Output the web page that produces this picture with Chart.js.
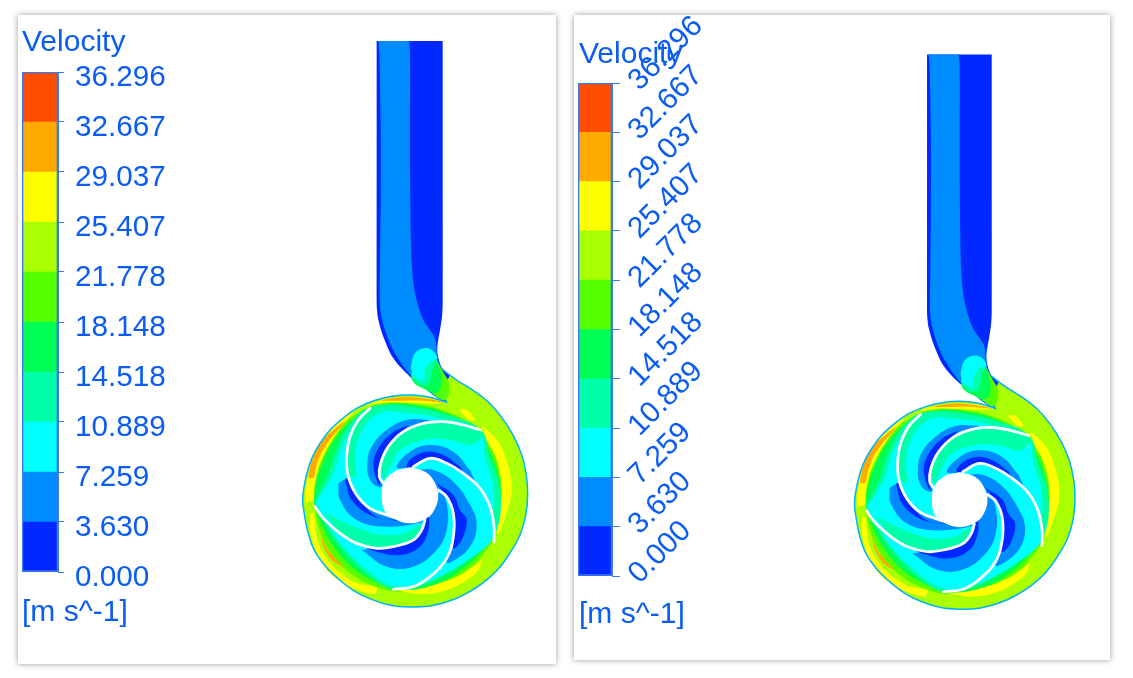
<!DOCTYPE html>
<html>
<head>
<meta charset="utf-8">
<script src="https://cdn.jsdelivr.net/npm/chart.js@4"></script>
<style>
  html, body { margin: 0; background: #fff; }
  .painel { position: absolute; background: #fff; box-shadow: 0 0 6px rgba(0,0,0,.4); }
  canvas { position: absolute; left: 0; top: 0; }
  .contorno { filter: blur(.4px); }
  .rotulo { position: absolute; font: 30px "Liberation Sans", Arial, sans-serif; color: #0a5cf5; white-space: nowrap; line-height: 34px; }
</style>
</head>
<body>
<div class="painel" id="p1" style="left:18px;top:15px;width:538px;height:649px">
  <canvas class="contorno" id="contorno1" width="538" height="649"></canvas>
  <canvas id="barra1" width="538" height="649"></canvas>
  <div class="rotulo" style="left:4px;top:9px">Velocity</div>
  <div class="rotulo" style="left:4px;top:579px">[m s^-1]</div>
</div>
<div class="painel" id="p2" style="left:574px;top:15px;width:536px;height:645px">
  <canvas class="contorno" id="contorno2" width="536" height="645"></canvas>
  <canvas id="barra2" width="536" height="645"></canvas>
  <div class="rotulo" style="left:5px;top:21px">Velocity</div>
  <div class="rotulo" style="left:5px;top:581px">[m s^-1]</div>
</div>
<script>
// Níveis e cores da escala de velocidade
const niveis = [0, 3.630, 7.259, 10.889, 14.518, 18.148, 21.778, 25.407, 29.037, 32.667, 36.296];
const cores = ['#0028ff', '#008cff', '#00ffff', '#00ffaa', '#00ff55', '#55ff00', '#aaff00', '#ffff00', '#ffaa00', '#ff4d00'];

// Contornos (unidades: pixels do recorte 3x do painel esquerdo)
const paredeVoluta = [[470,97],[412,80],[360,75],[306,79],[256,91],[205,112],[163,141],[122,178],[90,220],[64,268],[48,321],[38,385],[43,432],[54,487],[72,539],[106,588],[148,629],[194,664],[246,689],[302,706],[360,711],[420,708],[476,694],[530,670],[580,638],[625,597],[660,549],[690,495],[707,437],[713,376],[709,315],[695,254],[670,197],[636,143],[595,96],[545,58],[500,30],[460,0]];
const contornoTotal = [[260,-987],[260,-978],[260,-600],[260,-200],[261,-180],[265,-150],[280,-100],[310,-35],[360,20],[420,65],[470,97],[412,80],[360,75],[306,79],[256,91],[205,112],[163,141],[122,178],[90,220],[64,268],[48,321],[38,385],[43,432],[54,487],[72,539],[106,588],[148,629],[194,664],[246,689],[302,706],[360,711],[420,708],[476,694],[530,670],[580,638],[625,597],[660,549],[690,495],[707,437],[713,376],[709,315],[695,254],[670,197],[636,143],[595,96],[545,58],[500,30],[460,0],[445,-35],[442,-70],[450,-120],[456,-160],[458,-200],[458,-600],[458,-978],[458,-987]];
const tuboAzul = [[265,-987],[268,-950],[272,-720],[272,-520],[270,-320],[270,-190],[285,-120],[315,-50],[370,25],[470,97],[455,0],[442,-35],[435,-95],[400,-150],[375,-230],[365,-320],[362,-420],[360,-620],[360,-950],[357,-987]];
const garganta5 = [[458,3],[478,45],[465,90],[420,65],[365,25],[400,-50],[440,-30]];
const garganta4 = [[450,-5],[455,30],[445,65],[420,65],[365,25],[400,-50],[440,-30]];
const garganta3 = [[442,-30],[430,-10],[412,45],[365,20],[400,-50]];
const garganta2 = [[362,-10],[375,-50],[400,-65],[425,-60],[442,-35],[420,-25],[405,0],[400,32],[368,15]];

const amareloDir = [[575,165],[625,215],[655,290],[665,360],[650,430],[622,495],[625,430],[635,360],[620,270],[590,210]];
const amareloTopo = [[505,118],[530,120],[555,150],[535,150]];
const amareloBaixoDir = [[320,662],[400,672],[470,660],[530,630],[565,600],[575,570],[555,585],[500,620],[420,648],[360,658]];
const amareloBaixoEsq = [[72,430],[85,520],[130,590],[200,640],[260,652],[255,672],[190,655],[125,615],[85,560],[62,490],[60,430]];
const laranjaBaixoEsq = [[88,470],[105,525],[135,565],[160,590],[125,570],[98,525]];
const amareloEsq = [[46,400],[50,340],[70,265],[110,195],[190,125],[140,190],[95,270],[75,340],[72,390]];
const laranjaEsq = [[55,325],[62,280],[85,225],[130,180],[165,155],[115,215],[85,270],[72,325]];
const amareloArco = [[230,105],[300,85],[400,83],[465,97],[400,100],[300,97]];
const laranjaArco = [[270,92],[330,82],[400,85],[460,97],[400,92],[330,92]];

const anelVerde = [[72,395],[85,470],[120,545],[175,605],[255,650],[330,665],[430,655],[530,605],[590,540],[625,480],[640,370],[620,270],[585,205],[540,160],[470,125],[400,105],[300,95],[210,125],[130,195],[85,280],[70,350]];
const anelVerde2 = [[72,395],[95,465],[135,535],[190,595],[265,640],[330,660],[430,645],[520,595],[585,530],[618,470],[632,370],[612,275],[578,210],[535,165],[470,130],[400,110],[300,102],[215,130],[140,200],[95,285],[75,350]];
const anelPrimavera = [[72,398],[105,460],[150,530],[235,615],[310,658],[400,645],[500,590],[580,530],[625,465],[628,350],[600,265],[572,180],[470,135],[340,108],[240,112],[185,155],[145,225],[115,310]];
const discoCiano = [[78,395],[130,310],[155,230],[195,165],[240,122],[340,128],[430,140],[530,180],[572,195],[585,260],[610,350],[610,460],[605,510],[545,562],[465,612],[385,642],[310,648],[235,603],[155,525],[105,450]];

const azul1 = [[420,150],[350,150],[290,180],[245,230],[232,280],[240,330],[268,352],[280,340],[268,320],[272,280],[295,230],[340,185],[400,160]];
const escuro1 = [[355,165],[305,190],[265,235],[250,285],[262,335],[270,345],[268,320],[272,280],[295,230],[340,185]];
const verdeClaro1 = [[240,115],[205,150],[180,200],[170,260],[172,310],[198,320],[195,260],[210,195],[250,140],[300,120]];
const azul2 = [[540,300],[490,245],[420,225],[360,245],[320,290],[350,295],[370,290],[420,265],[470,280],[520,310],[560,345]];
const escuro2 = [[510,290],[460,255],[410,245],[365,265],[350,290],[370,290],[420,265],[470,280],[520,310]];
const verdeClaro2 = [[300,290],[330,240],[400,210],[480,210],[545,225],[575,190],[520,170],[460,160],[400,165],[340,190],[298,235],[275,285],[283,335]];
const azul3 = [[375,300],[430,300],[490,335],[535,395],[560,460],[540,530],[475,580],[470,565],[490,500],[490,430],[470,380],[445,360]];
const escuro3 = [[440,340],[490,375],[510,420],[530,450],[515,510],[490,535],[495,480],[490,430],[470,380]];
const azul4 = [[215,540],[290,590],[370,590],[440,540],[470,480],[470,400],[450,365],[425,420],[405,450],[395,480],[370,510],[310,530],[260,535]];
const escuro4 = [[205,525],[260,545],[330,555],[390,530],[415,480],[420,420],[445,390],[425,420],[405,450],[395,480],[370,510],[310,530],[260,535]];
const azul5 = [[145,340],[150,390],[200,450],[290,470],[400,455],[330,450],[240,415],[200,375],[175,320]];
const escuro5 = [[165,330],[185,390],[240,435],[300,450],[330,450],[260,440],[200,375],[175,320]];
const verdeClaro5 = [[100,425],[160,455],[220,480],[280,495],[340,490],[385,465],[395,455],[370,510],[310,530],[260,535],[200,520],[150,490]];

const pa1 = [[240,115],[205,150],[180,200],[170,260],[175,320],[200,375],[240,415],[305,440]];
const pa2 = [[572,180],[520,165],[460,155],[400,160],[340,185],[295,230],[272,280],[268,320],[280,340]];
const pa3 = [[612,517],[612,470],[600,410],[570,355],[520,310],[470,280],[420,265],[370,290]];
const pa4 = [[310,658],[370,650],[420,620],[470,565],[490,500],[490,430],[470,380],[445,360]];
const pa5 = [[75,410],[100,445],[150,490],[200,520],[260,535],[310,530],[370,510],[395,480],[405,450]];
const cubo = [[360,292],[405,305],[430,330],[445,376],[430,425],[400,450],[360,460],[315,448],[285,425],[275,376],[285,330],[320,300]];

// Cria uma camada preenchida do contorno
function camada(pontos, cor, tensao = 0.4) {
    return {
        data: pontos.map(p => ({ x: p[0], y: p[1] })),
        showLine: true,
        pointRadius: 0,
        borderWidth: 0,
        backgroundColor: cor,
        fill: 'shape',
        tension: tensao
    };
}

// Cria uma linha sem preenchimento (pás do rotor, parede da voluta)
function linha(pontos, cor, largura) {
    return {
        data: pontos.map(p => ({ x: p[0], y: p[1] })),
        showLine: true,
        pointRadius: 0,
        borderWidth: largura,
        borderColor: cor,
        borderCapStyle: 'round',
        fill: false,
        tension: 0.4
    };
}

function montarCamadas() {
    const lista = [
        camada(contornoTotal, cores[0], 0.3),
        camada(tuboAzul, cores[1], 0.3),
        camada(paredeVoluta.concat([[478,17],[460,40]]), cores[6]),
        camada(garganta5, cores[5]),
        camada(garganta4, cores[4]),
        camada(garganta3, cores[3]),
        camada(garganta2, cores[2]),
        camada(anelVerde, cores[5]),
        camada(amareloDir, cores[7]),
        camada(amareloTopo, cores[7]),
        camada(amareloBaixoDir, cores[7]),
        camada(amareloBaixoEsq, cores[7], 0.3),
        camada(laranjaBaixoEsq, cores[8], 0.3),
        camada(amareloEsq, cores[7]),
        camada(laranjaEsq, cores[8]),
        camada(amareloArco, cores[7]),
        camada(laranjaArco, cores[8]),
        camada(anelVerde2, cores[4]),
        camada(anelPrimavera, cores[3]),
        camada(discoCiano, cores[2]),
        camada(verdeClaro1, cores[3]),
        camada(verdeClaro2, cores[3]),
        camada(verdeClaro5, cores[3]),
        camada(azul1, cores[1]),
        camada(azul2, cores[1]),
        camada(azul3, cores[1]),
        camada(azul4, cores[1]),
        camada(azul5, cores[1]),
        camada(escuro1, cores[0]),
        camada(escuro2, cores[0]),
        camada(escuro3, cores[0]),
        camada(escuro4, cores[0]),
        camada(escuro5, cores[0]),
        camada(cubo, '#fff'),
        linha(paredeVoluta, '#00b4ff', 1.5),
        linha(pa1, '#fff', 2.8), linha(pa2, '#fff', 2.8), linha(pa3, '#fff', 2.8), linha(pa4, '#fff', 2.8), linha(pa5, '#fff', 2.8)
    ];
    // Chart.js desenha o primeiro dataset por cima
    return lista.reverse();
}

// Desenha o contorno da bomba
function desenharContorno(id, limites) {
    new Chart(document.getElementById(id), {
        type: 'scatter',
        data: { datasets: montarCamadas() },
        options: {
            responsive: false,
            animation: false,
            events: [],
            layout: { padding: 0 },
            plugins: { legend: { display: false }, tooltip: { enabled: false }, filler: { drawTime: 'beforeDatasetDraw' } },
            scales: {
                x: { display: false, min: limites.xMin, max: limites.xMax },
                y: { display: false, reverse: true, min: limites.yMin, max: limites.yMax }
            }
        }
    });
}

// Desenha a barra de cores com a escala
function desenharBarra(id, cfg) {
    const faixas = cores.map((cor, i) => ({
        data: [[niveis[i], niveis[i + 1]]],
        backgroundColor: cor,
        grouped: false,
        categoryPercentage: 1,
        barPercentage: 1,
        borderWidth: 0
    }));
    // Moldura da barra, desenhada por cima das faixas
    const moldura = {
        data: [[niveis[0], niveis[niveis.length - 1]]],
        backgroundColor: 'transparent',
        grouped: false,
        categoryPercentage: 1,
        barPercentage: 1,
        borderColor: '#3d78e6',
        borderSkipped: false,
        borderWidth: 1
    };

    new Chart(document.getElementById(id), {
        type: 'bar',
        data: { labels: ['Velocity'], datasets: [moldura].concat(faixas) },
        options: {
            responsive: false,
            animation: false,
            events: [],
            layout: { autoPadding: false, padding: cfg.padding },
            plugins: { legend: { display: false }, tooltip: { enabled: false } },
            scales: {
                x: { display: false },
                y: {
                    position: 'right',
                    min: niveis[0],
                    max: niveis[niveis.length - 1],
                    afterBuildTicks: eixo => { eixo.ticks = niveis.map(v => ({ value: v })); },
                    afterFit: eixo => { eixo.width = 200; },
                    grid: { drawOnChartArea: false, color: '#3d78e6', tickLength: cfg.marca, lineWidth: 1 },
                    border: { color: '#3d78e6', width: 1 },
                    ticks: {
                        color: '#0a5cf5',
                        padding: cfg.folga,
                        autoSkip: false,
                        minRotation: cfg.rotacao,
                        maxRotation: cfg.rotacao,
                        font: { family: '"Liberation Sans", Arial, sans-serif', size: 29.7, lineHeight: cfg.descida },
                        // linha vazia antes do texto desce o rótulo em relação à marca
                        callback: v => ['', v.toFixed(3)]
                    }
                }
            }
        }
    });
}

desenharContorno('contorno1', { xMin: -816, xMax: 798, yMin: -1065, yMax: 882 });

// Painel direito: mesma geometria, escala 0.98 e centro do rotor em (959.7, 499.7)
const escala2 = 0.98 / 3;
desenharContorno('contorno2', {
    xMin: 360 + (574 - 959.7) / escala2,
    xMax: 360 + (1110 - 959.7) / escala2,
    yMin: 376 + (15 - 499.7) / escala2,
    yMax: 376 + (660 - 499.7) / escala2
});

desenharBarra('barra1', { padding: { left: 4, right: 298, top: 57, bottom: 92 }, marca: 6, folga: 11, rotacao: 0, descida: '12px' });
desenharBarra('barra2', { padding: { left: 4, right: 298, top: 68, bottom: 84 }, marca: 8, folga: 11, rotacao: 45, descida: '8px' });
</script>
</body>
</html>
